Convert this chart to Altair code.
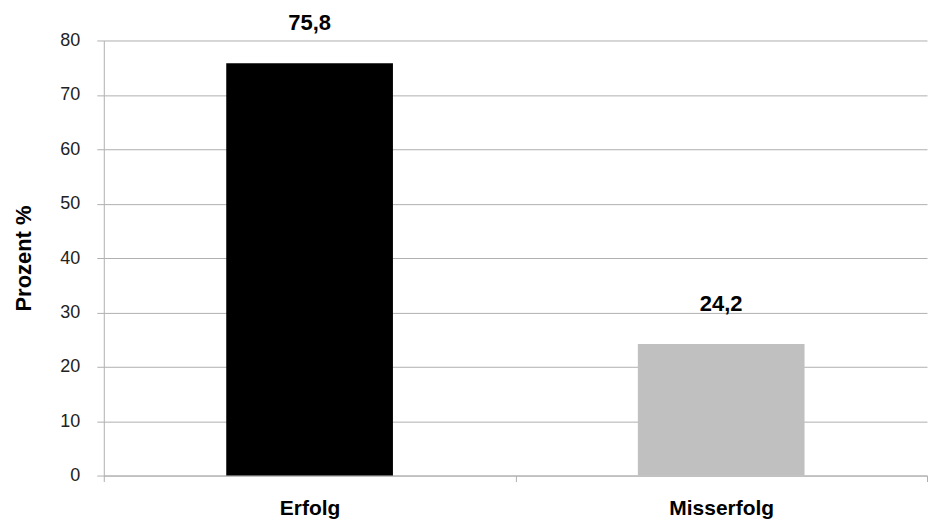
import altair as alt
import pandas as pd

categories = ["Erfolg", "Misserfolg"]
values = [75.8, 24.2]
value_labels = ["75,8", "24,2"]
bar_colors = ["#000000", "#c0c0c0"]
y_ticks = [0, 10, 20, 30, 40, 50, 60, 70, 80]

df = pd.DataFrame({"Kategorie": categories, "Wert": values, "Label": value_labels})

FONT = "Liberation Sans"

x_enc = alt.X(
    "Kategorie:N",
    sort=categories,
    scale=alt.Scale(paddingInner=0, paddingOuter=0),
    axis=alt.Axis(
        title=None,
        labelAngle=0,
        tickBand="extent",
        labelFontSize=21,
        labelFontWeight="bold",
        labelColor="#000000",
        labelPadding=16,
        tickSize=6,
        grid=False,
    ),
)

y_enc = alt.Y(
    "Wert:Q",
    title="Prozent %",
    scale=alt.Scale(domain=[0, 80], nice=False),
    axis=alt.Axis(
        values=y_ticks,
        labelFontSize=18,
        labelColor="#222222",
        labelPadding=17,
        tickSize=7,
        grid=True,
        titleFontSize=22,
        titleFontWeight="bold",
        titleColor="#000000",
        titlePadding=24,
    ),
)

base = alt.Chart(df).encode(x=x_enc)

bars = base.mark_bar(width={"band": 0.405}).encode(
    y=y_enc,
    color=alt.Color(
        "Kategorie:N",
        scale=alt.Scale(domain=categories, range=bar_colors),
        legend=None,
    ),
)

texts = base.mark_text(
    dy=-33, fontSize=22, fontWeight="bold", baseline="alphabetic", font=FONT, color="#000000"
).encode(
    y=alt.Y("Wert:Q", title="Prozent %"),
    text="Label:N",
)

chart = (
    alt.layer(bars, texts)
    .properties(width=825, height=436, padding={"left": 4, "top": 3, "right": 0, "bottom": 0})
    .configure_view(stroke=None)
    .configure_axis(
        labelFont=FONT,
        titleFont=FONT,
        gridColor="#b0b0b0",
        domainColor="#b0b0b0",
        tickColor="#b0b0b0",
        gridWidth=1,
        domainWidth=1,
    )
)

chart.save("out.html", embed_options={"renderer": "svg", "actions": False})
